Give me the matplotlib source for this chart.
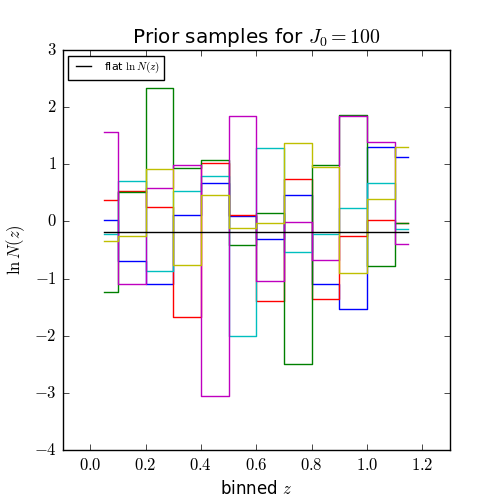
import matplotlib
matplotlib.use('Agg')
import matplotlib.pyplot as plt
from matplotlib.ticker import FuncFormatter

# bin centres in z
z_mid = [0.05, 0.15, 0.25, 0.35, 0.45, 0.55, 0.65, 0.75, 0.85, 0.95, 1.05, 1.15]

# prior samples of ln N(z), one per colour
blue_vals = [0.02, -0.70, -1.10, 0.12, 0.68, 0.09, -0.30, 0.47, -1.09, -1.54, 1.31, 1.12]
red_vals = [0.37, 0.54, 0.25, -1.68, 1.03, 0.105, -1.40, 0.74, -1.35, -0.25, 0.02, -0.02]
green_vals = [-1.24, 0.51, 2.34, 0.93, 1.08, -0.42, 0.14, -2.50, 0.98, 1.87, -0.78, -0.02]
cyan_vals = [-0.22, 0.71, -0.86, 0.53, 0.79, -2.00, 1.29, -0.54, -0.22, 0.23, 0.68, -0.135]
magenta_vals = [1.56, -1.10, 0.58, 0.99, -3.05, 1.84, -1.05, -0.01, -0.68, 1.85, 1.39, -0.40]
yellow_vals = [-0.35, -0.26, 0.92, -0.77, 0.47, -0.12, -0.035, 1.38, 0.95, -0.91, 0.39, 1.30]
flat_vals = [-0.19, -0.19, -0.19, -0.19, -0.19, -0.19, -0.19, -0.19, -0.19, -0.19, -0.19, -0.19]

plt.style.use('classic')
plt.rcParams['mathtext.fontset'] = 'cm'
fig = plt.figure(figsize=(5, 5), dpi=100)
fig.patch.set_facecolor('white')
ax = fig.add_subplot(111)

samples = [(blue_vals, 'b'), (red_vals, 'r'), (green_vals, 'g'),
           (cyan_vals, 'c'), (magenta_vals, 'm'), (yellow_vals, 'y')]
for vals, col in samples:
    ax.step(z_mid, vals, where='mid', color=col, lw=1.0)
ax.step(z_mid, flat_vals, where='mid', color='k', lw=1.0, label=r'flat $\ln N(z)$')

ax.set_xlim(-0.1, 1.3)
ax.set_ylim(-4, 3)
ax.xaxis.set_major_formatter(FuncFormatter(lambda v, p: '$%.1f$' % v))
ax.yaxis.set_major_formatter(FuncFormatter(lambda v, p: '$%d$' % round(v)))
ax.set_title(r'Prior samples for $J_0 = 100$')
ax.set_xlabel(r'binned $z$')
ax.set_ylabel(r'$\ln N(z)$')
ax.legend(loc='upper left', fontsize=8)

plt.savefig('out.png', dpi=100, facecolor='white')
